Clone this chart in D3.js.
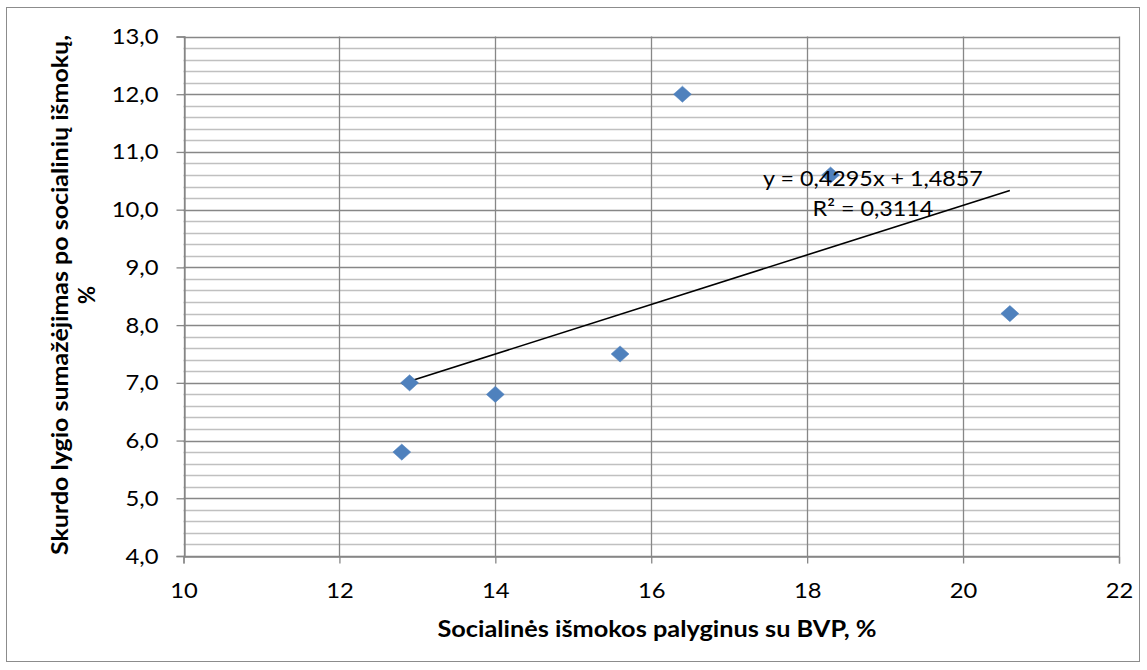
<!DOCTYPE html>
<html><head><meta charset="utf-8">
<script src="https://cdn.jsdelivr.net/npm/d3@7"></script>
<style>body{margin:0;background:#fff}text{font-family:Lato,"Open Sans",sans-serif}</style>
</head><body><svg id="c" width="1147" height="670"></svg>
<script>
const xVals = [12.8, 12.9, 14.0, 15.6, 16.4, 18.3, 20.6];
const yVals = [5.8, 7.0, 6.8, 7.5, 12.0, 10.6, 8.2];
const xTicks = [10, 12, 14, 16, 18, 20, 22];
const yTicks = [4, 5, 6, 7, 8, 9, 10, 11, 12, 13];
const slope = 0.4295, intercept = 1.4857;
const eqText = "y = 0,4295x + 1,4857";
const r2Text = "R² = 0,3114";
const xTitle = "Socialinės išmokos palyginus su BVP, %";
const yTitle = ["Skurdo lygio sumažėjimas po socialinių išmokų,", "%"];

const svg = d3.select("#c");
svg.append("rect").attr("x",6.5).attr("y",7.5).attr("width",1133).attr("height",654)
  .attr("fill","#fff").attr("stroke","#8c8c8c").attr("stroke-width",1);

const x = d3.scaleLinear().domain([10,22]).range([183.5,1119]);
const y = d3.scaleLinear().domain([4,13]).range([556,36.5]);
const g = svg.append("g");

function stretch(sel, f){ sel.each(function(){ const w=this.getComputedTextLength(); d3.select(this).attr("textLength", w*f).attr("lengthAdjust","spacingAndGlyphs"); }); }

// minor grid
const minor = d3.range(4, 13.0001, 0.2).filter(v => Math.abs(v-Math.round(v))>1e-6);
g.selectAll(".mn").data(minor).join("line")
  .attr("x1",x(10)).attr("x2",x(22)).attr("y1",d=>Math.round(y(d))+0.5).attr("y2",d=>Math.round(y(d))+0.5)
  .attr("stroke","#c0c0c0").attr("stroke-width",1.3);
// major grid
g.selectAll(".mj").data(yTicks).join("line")
  .attr("x1",x(10)).attr("x2",x(22)).attr("y1",d=>Math.round(y(d))+0.5).attr("y2",d=>Math.round(y(d))+0.5)
  .attr("stroke","#878787").attr("stroke-width",1.3);
g.selectAll(".vx").data(xTicks).join("line")
  .attr("x1",d=>Math.round(x(d))+0.5).attr("x2",d=>Math.round(x(d))+0.5).attr("y1",y(13)).attr("y2",y(4))
  .attr("stroke","#878787").attr("stroke-width",1.3);

// axes
const fmt = d => d3.format(".1f")(d).replace(".", ",");
const yAxis = d3.axisLeft(y).tickValues(yTicks).tickFormat(fmt).tickSize(8).tickPadding(18);
const ya = svg.append("g").attr("transform",`translate(${Math.round(x(10))+0.5},0)`).call(yAxis);
const xAxis = d3.axisBottom(x).tickValues(xTicks).tickFormat(d3.format("d")).tickSize(7).tickPadding(19);
const xa = svg.append("g").attr("transform",`translate(0,${Math.round(y(4))+0.5})`).call(xAxis);
[ya,xa].forEach(a=>{
  a.attr("font-size",22);
  a.select(".domain").attr("stroke","#878787").attr("stroke-width",1.3);
  a.selectAll(".tick line").attr("stroke","#878787").attr("stroke-width",1.3);
  a.selectAll("text").attr("font-size",22).attr("fill","#000").attr("font-family","Lato, sans-serif").call(stretch,1.08);
});

// trendline
const x0 = d3.min(xVals), x1 = d3.max(xVals);
svg.append("line").attr("x1",x(x0)).attr("y1",y(slope*x0+intercept))
  .attr("x2",x(x1)).attr("y2",y(slope*x1+intercept)).attr("stroke","#000").attr("stroke-width",1.6);

// markers
const pts = xVals.map((v,i)=>[v,yVals[i]]);
svg.selectAll(".pt").data(pts).join("path")
  .attr("d", d3.symbol().type(d3.symbolDiamond2).size(185)())
  .attr("transform",d=>`translate(${x(d[0])},${y(d[1])}) scale(1.05,0.95)`)
  .attr("fill","#4f81bd").attr("stroke","#4f81bd").attr("stroke-width",0.5);

// labels
svg.append("text").attr("x",873).attr("y",186).attr("text-anchor","middle").attr("font-size",22).text(eqText).call(stretch,1.06);
svg.append("text").attr("x",873).attr("y",216).attr("text-anchor","middle").attr("font-size",22).text(r2Text).call(stretch,1.06);

svg.append("text").attr("x",657).attr("y",637).attr("text-anchor","middle").attr("font-size",22)
  .attr("font-weight","bold").text(xTitle).call(stretch,1.15);
const yt = svg.append("g").attr("transform","translate(68,295) rotate(-90)");
yt.append("text").attr("x",0).attr("y",0).attr("text-anchor","middle").attr("font-size",22)
  .attr("font-weight","bold").text(yTitle[0]).call(stretch,1.135);
yt.append("text").attr("x",0).attr("y",27).attr("text-anchor","middle").attr("font-size",22)
  .attr("font-weight","bold").text(yTitle[1]);
</script></body></html>
